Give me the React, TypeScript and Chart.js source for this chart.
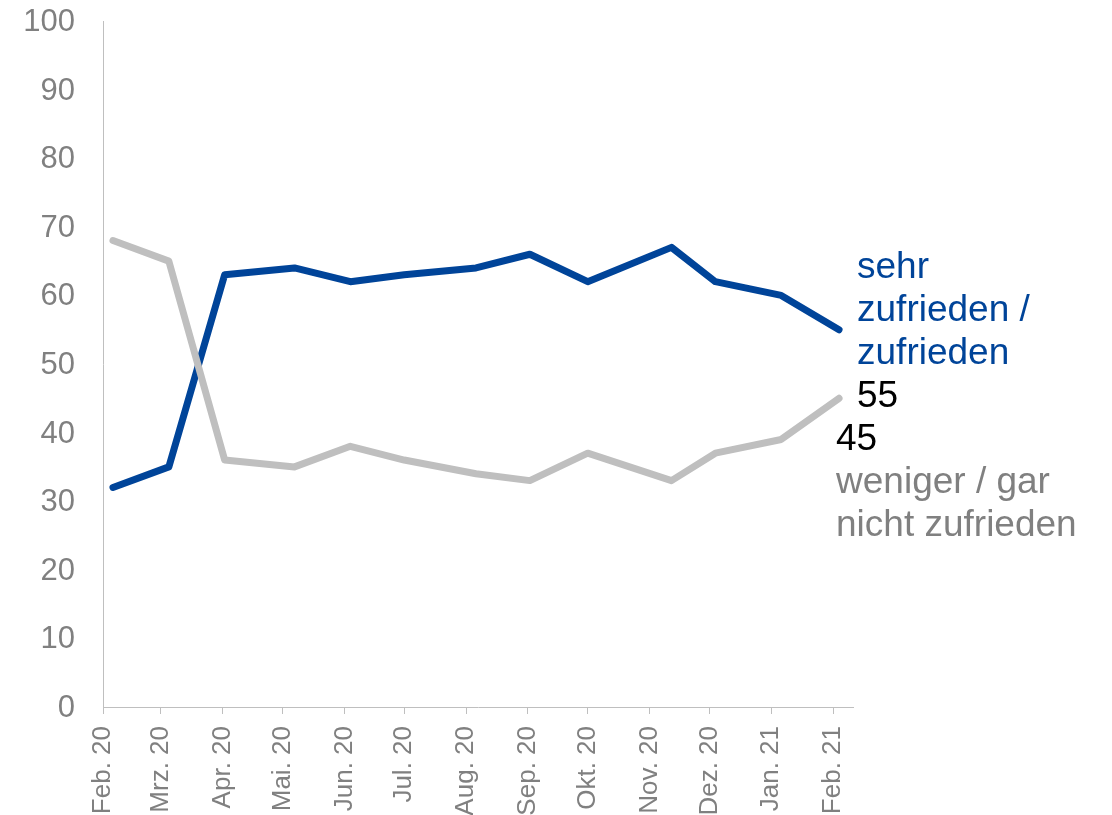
import { useEffect, useRef } from "react";
import { Chart, registerables } from "chart.js";

Chart.register(...registerables);

// Survey dates (field times) and values
const surveyDates = [
  "2020-02-06", "2020-03-05", "2020-04-02", "2020-05-07", "2020-06-04", "2020-07-01",
  "2020-08-06", "2020-09-02", "2020-10-01", "2020-11-12", "2020-12-04", "2021-01-06", "2021-02-04",
];
const zufrieden = [32, 35, 63, 64, 62, 63, 64, 66, 62, 67, 62, 60, 55];
const nichtZufrieden = [68, 65, 36, 35, 38, 36, 34, 33, 37, 33, 37, 39, 45];

// Axis ticks: first day of each month
const monthStarts = [
  "2020-02-01", "2020-03-01", "2020-04-01", "2020-05-01", "2020-06-01", "2020-07-01",
  "2020-08-01", "2020-09-01", "2020-10-01", "2020-11-01", "2020-12-01", "2021-01-01", "2021-02-01",
];
const tickLabels = [
  "Feb. 20", "Mrz. 20", "Apr. 20", "Mai. 20", "Jun. 20", "Jul. 20",
  "Aug. 20", "Sep. 20", "Okt. 20", "Nov. 20", "Dez. 20", "Jan. 21", "Feb. 21",
];
const axisStart = "2020-02-01";
const axisEnd = "2021-02-11";

const blueLabel = ["sehr", "zufrieden /", "zufrieden"];
const greyLabel = ["weniger / gar", "nicht zufrieden"];

const BLUE = "#004499";
const GREY = "#BFBFBF";
const TEXT_GREY = "#808080";
const FONT = "'Liberation Sans', Arial, sans-serif";

const dayOf = (iso: string) => {
  const [y, m, d] = iso.split("-").map(Number);
  const [y0, m0, d0] = axisStart.split("-").map(Number);
  return (Date.UTC(y, m - 1, d) - Date.UTC(y0, m0 - 1, d0)) / 86400000;
};

const endLabels = {
  id: "endLabels",
  afterDatasetsDraw(chart: any) {
    const ctx = chart.ctx;
    const greyMeta = chart.getDatasetMeta(0);
    const blueMeta = chart.getDatasetMeta(1);
    const gp = greyMeta.data[greyMeta.data.length - 1];
    const bp = blueMeta.data[blueMeta.data.length - 1];
    const lh = 43;
    ctx.save();
    ctx.font = `37px ${FONT}`;
    ctx.textAlign = "left";
    ctx.textBaseline = "alphabetic";
    const bx = bp.x + 18;
    const by = bp.y - 52;
    ctx.fillStyle = BLUE;
    blueLabel.forEach((t, i) => ctx.fillText(t, bx, by + i * lh));
    ctx.fillStyle = "#000000";
    ctx.fillText(String(zufrieden[zufrieden.length - 1]), bx, by + blueLabel.length * lh);
    const gx = gp.x - 3;
    const gy = gp.y + 51.5;
    ctx.fillText(String(nichtZufrieden[nichtZufrieden.length - 1]), gx, gy);
    ctx.fillStyle = TEXT_GREY;
    greyLabel.forEach((t, i) => ctx.fillText(t, gx, gy + (i + 1) * lh));
    ctx.restore();
  },
};

export default function App() {
  const canvasRef = useRef<HTMLCanvasElement | null>(null);

  useEffect(() => {
    if (!canvasRef.current) return;
    const chart = new Chart(canvasRef.current, {
      type: "line",
      data: {
        datasets: [
          {
            label: "weniger / gar nicht zufrieden",
            data: surveyDates.map((d, i) => ({ x: dayOf(d), y: nichtZufrieden[i] })),
            borderColor: GREY,
            borderWidth: 7,
            borderCapStyle: "round",
            borderJoinStyle: "round",
            pointRadius: 0,
            tension: 0,
            fill: false,
          },
          {
            label: "sehr zufrieden / zufrieden",
            data: surveyDates.map((d, i) => ({ x: dayOf(d), y: zufrieden[i] })),
            borderColor: BLUE,
            borderWidth: 7,
            borderCapStyle: "round",
            borderJoinStyle: "round",
            pointRadius: 0,
            tension: 0,
            fill: false,
          },
        ],
      },
      options: {
        animation: false,
        responsive: true,
        maintainAspectRatio: false,
        layout: { padding: { left: 23, top: 21, right: 259, bottom: 0 } },
        plugins: {
          legend: { display: false },
          tooltip: { enabled: false },
        },
        events: [],
        scales: {
          x: {
            type: "linear",
            min: dayOf(axisStart),
            max: dayOf(axisEnd),
            afterBuildTicks: (scale: any) => {
              scale.ticks = monthStarts.map((d) => ({ value: dayOf(d) }));
            },
            afterFit: (scale: any) => {
              scale.height = 108;
              scale.paddingLeft = 0;
              scale.paddingRight = 0;
            },
            grid: {
              display: true,
              drawOnChartArea: false,
              drawTicks: true,
              tickLength: 7,
              color: GREY,
              lineWidth: 1,
            },
            border: { display: true, color: GREY, width: 1 },
            ticks: {
              autoSkip: false,
              maxRotation: 90,
              minRotation: 90,
              padding: 12,
              color: TEXT_GREY,
              font: { family: FONT, size: 26 },
              callback: (_v: any, index: number) => tickLabels[index],
            },
          },
          y: {
            min: 0,
            max: 100,
            afterFit: (scale: any) => {
              scale.width = 80;
              scale.paddingTop = 0;
              scale.paddingBottom = 0;
            },
            grid: { display: false, drawTicks: false },
            border: { display: true, color: GREY, width: 1 },
            ticks: {
              stepSize: 10,
              padding: 28,
              labelOffset: 1.5,
              color: TEXT_GREY,
              font: { family: FONT, size: 31 },
            },
          },
        },
      },
      plugins: [endLabels],
    });
    return () => chart.destroy();
  }, []);

  return (
    <div style={{ position: "fixed", left: 0, top: 0, width: 1112, height: 815, background: "#fff" }}>
      <canvas ref={canvasRef} />
    </div>
  );
}
